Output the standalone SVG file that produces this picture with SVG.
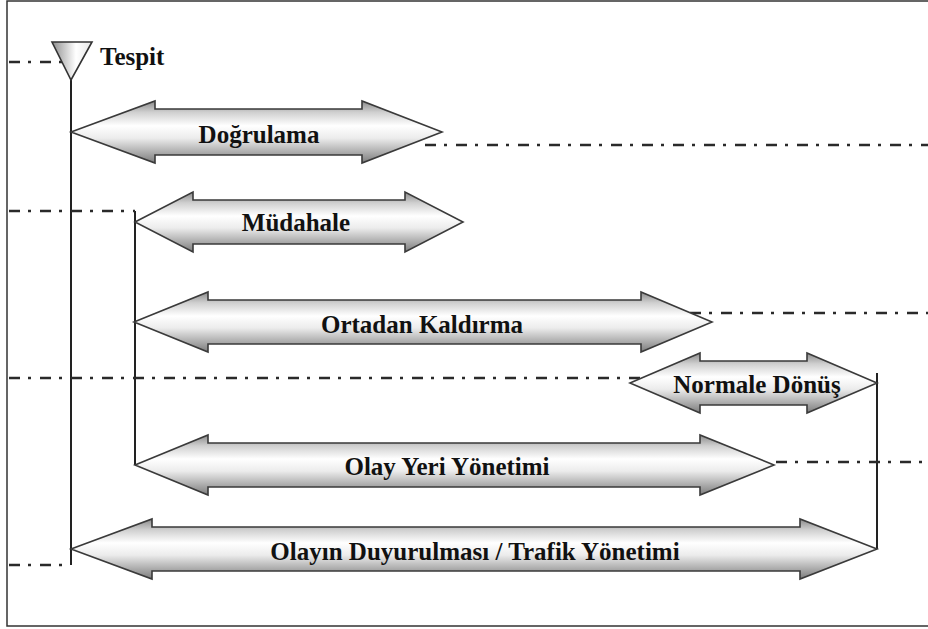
<svg xmlns="http://www.w3.org/2000/svg" width="928" height="629" viewBox="0 0 928 629">
  <defs>
    <linearGradient id="barFill" x1="0" y1="0" x2="0" y2="1">
      <stop offset="0" stop-color="#8a8a8a"/>
      <stop offset="0.18" stop-color="#cfcfcf"/>
      <stop offset="0.4" stop-color="#ffffff"/>
      <stop offset="0.6" stop-color="#ececec"/>
      <stop offset="1" stop-color="#7c7c7c"/>
    </linearGradient>
    <linearGradient id="triFill" x1="0" y1="0" x2="1" y2="0">
      <stop offset="0" stop-color="#8e8e8e"/>
      <stop offset="0.6" stop-color="#ffffff"/>
      <stop offset="1" stop-color="#e6e6e6"/>
    </linearGradient>
    <style>
      .frame { fill: none; stroke: #333; stroke-width: 1.5; }
      .bar { fill: url(#barFill); stroke: #3a3a3a; stroke-width: 1.6; stroke-linejoin: miter; }
      .tri { fill: url(#triFill); stroke: #333; stroke-width: 1.6; }
      .solid { fill: none; stroke: #222; stroke-width: 2; }
      .dashdot { fill: none; stroke: #2a2a2a; stroke-width: 2.6; stroke-dasharray: 11 8 3 9; }
      .lbl { font-family: "Liberation Serif", "Times New Roman", serif; font-weight: bold; font-size: 25px; fill: #111; text-anchor: middle; }
      .lbl-start { text-anchor: start; }
    </style>
  </defs>

  <rect width="928" height="629" fill="#ffffff"/>
  <!-- outer frame, open on the right -->
  <path class="frame" d="M929 1 H7 V626 H929"/>

  <!-- timeline lines: solid verticals and dash-dot phase markers -->
  <g id="connectors">
    <line class="solid" x1="71" y1="78" x2="71" y2="565"/>
    <line class="solid" x1="135" y1="211" x2="135" y2="465"/>
    <line class="solid" x1="877" y1="373" x2="877" y2="549"/>
    <line class="dashdot" x1="9" y1="62" x2="62" y2="62"/>
    <line class="dashdot" x1="425" y1="145" x2="928" y2="145"/>
    <line class="dashdot" x1="9" y1="211" x2="135" y2="211"/>
    <line class="dashdot" x1="690" y1="313" x2="928" y2="313"/>
    <line class="dashdot" x1="9" y1="378" x2="640" y2="378"/>
    <line class="dashdot" x1="776" y1="462" x2="928" y2="462"/>
    <line class="dashdot" x1="9" y1="565" x2="71" y2="565"/>
  </g>

  <g id="tespit">
    <polygon class="tri" points="52,42 92,42 71,80"/>
    <text class="lbl lbl-start" x="100" y="65">Tespit</text>
  </g>

  <g id="dogrulama">
    <path class="bar" d="M71 132 L155 101 L155 109 L362 109 L362 101 L442 132 L362 163 L362 155 L155 155 L155 163 Z"/>
    <text class="lbl" x="259" y="143">Doğrulama</text>
  </g>

  <g id="mudahale">
    <path class="bar" d="M135 222 L193 192 L193 200 L405 200 L405 192 L463 222 L405 252 L405 244 L193 244 L193 252 Z"/>
    <text class="lbl" x="296" y="231">Müdahale</text>
  </g>

  <g id="ortadan-kaldirma">
    <path class="bar" d="M134 322 L208 292 L208 300 L641 300 L641 292 L712 322 L641 352 L641 344 L208 344 L208 352 Z"/>
    <text class="lbl" x="422" y="333">Ortadan Kaldırma</text>
  </g>

  <g id="normale-donus">
    <path class="bar" d="M630 383 L700 353 L700 361 L807 361 L807 353 L877 383 L807 413 L807 405 L700 405 L700 413 Z"/>
    <text class="lbl" x="757" y="393">Normale Dönüş</text>
  </g>

  <g id="olay-yeri-yonetimi">
    <path class="bar" d="M135 465 L208 435 L208 443 L700 443 L700 435 L774 465 L700 495 L700 487 L208 487 L208 495 Z"/>
    <text class="lbl" x="447" y="475">Olay Yeri Yönetimi</text>
  </g>

  <g id="duyuru-trafik">
    <path class="bar" d="M71 549 L152 519 L152 527 L800 527 L800 519 L877 549 L800 579 L800 571 L152 571 L152 579 Z"/>
    <text class="lbl" x="475" y="560">Olayın Duyurulması / Trafik Yönetimi</text>
  </g>
</svg>
